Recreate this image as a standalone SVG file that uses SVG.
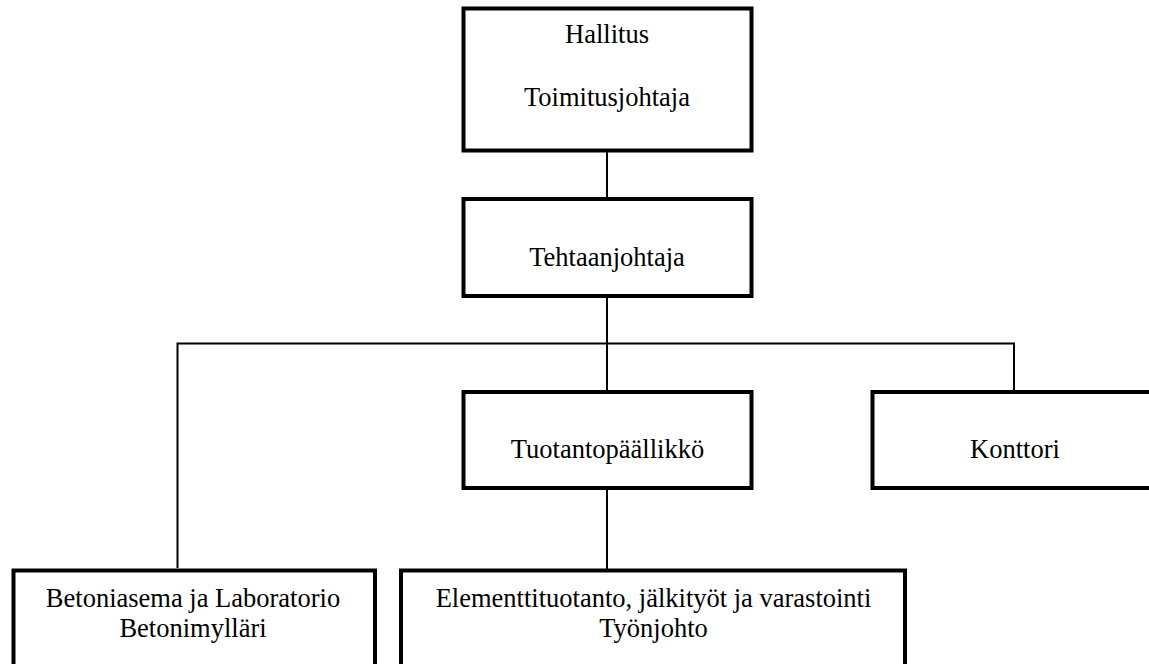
<svg xmlns="http://www.w3.org/2000/svg" width="1149" height="664" viewBox="0 0 1149 664">
  <style>
    .box { fill: #ffffff; stroke: #000000; stroke-width: 4; }
    .lbl { font-family: "Liberation Serif", "Times New Roman", serif; font-size: 26.5px; fill: #000000; text-anchor: middle; }
    .link { fill: none; stroke: #000000; stroke-width: 2; }
  </style>
  <rect width="1149" height="664" fill="#ffffff"/>

  <!-- connectors -->
  <g id="connectors">
    <path class="link" d="M607 151 V199"/>
    <path class="link" d="M607 296 V391"/>
    <path class="link" d="M177.5 568 V343.5 H1014 V391"/>
    <path class="link" d="M607 488 V571"/>
  </g>

  <g id="hallitus">
    <rect class="box" x="463.5" y="8.5" width="288" height="142"/>
    <text class="lbl" x="607" y="43">Hallitus</text>
    <text class="lbl" x="607" y="106">Toimitusjohtaja</text>
  </g>

  <g id="tehtaanjohtaja">
    <rect class="box" x="463.5" y="199" width="288" height="97"/>
    <text class="lbl" x="607" y="266">Tehtaanjohtaja</text>
  </g>

  <g id="tuotantopaallikko">
    <rect class="box" x="463.5" y="392" width="288" height="96"/>
    <text class="lbl" x="607.5" y="458">Tuotantopäällikkö</text>
  </g>

  <g id="konttori">
    <rect class="box" x="872.5" y="392" width="285" height="96"/>
    <text class="lbl" x="1015" y="458">Konttori</text>
  </g>

  <g id="betoniasema">
    <rect class="box" x="13.5" y="570.5" width="361.5" height="110"/>
    <text class="lbl" x="193" y="607">Betoniasema ja Laboratorio</text>
    <text class="lbl" x="193" y="637">Betonimylläri</text>
  </g>

  <g id="elementtituotanto">
    <rect class="box" x="401" y="570.5" width="504" height="110"/>
    <text class="lbl" x="653.5" y="607">Elementtituotanto, jälkityöt ja varastointi</text>
    <text class="lbl" x="653.5" y="637">Työnjohto</text>
  </g>
</svg>
